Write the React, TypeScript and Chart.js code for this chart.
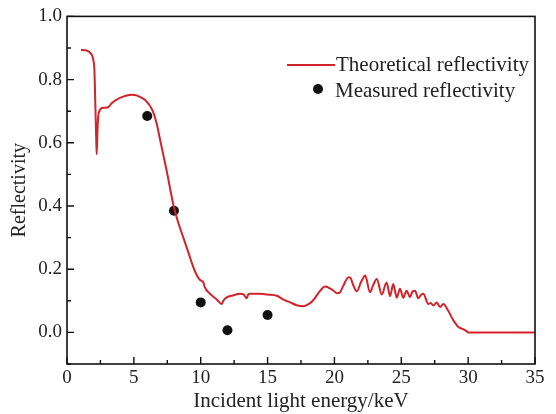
import React, { useEffect, useRef } from "react";
import { Chart, registerables } from "chart.js";

Chart.register(...registerables);

// Theoretical reflectivity curve (energy in keV)
const theoryEnergy = [
  1.05, 1.4, 1.72, 1.85, 1.97, 2.05, 2.12, 2.18, 2.22, 2.28, 2.34, 2.45, 2.6, 2.85,
  3.09, 3.34, 3.65, 3.96, 4.4, 4.84, 5.2, 5.46, 5.8, 6.08, 6.4, 6.7, 6.96, 7.46,
  7.95, 8.3, 8.7, 9.1, 9.45, 9.75, 9.95, 10.1, 10.2, 10.3, 10.7, 11.2, 11.57, 11.7,
  11.95, 12.4, 12.94, 13.2, 13.44, 13.55, 13.69, 14.4, 14.94, 15.7, 16.18, 16.7,
  17.18, 17.7, 18.1, 18.4, 18.9, 19.3, 19.8, 20.2, 20.4, 20.67, 21.04, 21.17, 21.4,
  21.67, 22.0, 22.3, 22.66, 22.9, 23.17, 23.54, 23.9, 24.16, 24.4, 24.66, 24.9,
  25.15, 25.4, 25.65, 25.85, 26.03, 26.27, 26.5, 26.65, 27.02, 27.2, 27.4, 27.65,
  27.9, 28.15, 28.5, 28.9, 29.27, 29.64, 29.85, 30.0, 35.0,
];
const theoryReflectivity = [
  0.894, 0.893, 0.886, 0.878, 0.862, 0.83, 0.72, 0.62, 0.564, 0.64, 0.685, 0.703, 0.71, 0.711,
  0.713, 0.725, 0.735, 0.742, 0.749, 0.752, 0.75, 0.745, 0.737, 0.724, 0.702, 0.662, 0.61, 0.51,
  0.405, 0.35, 0.3, 0.25, 0.206, 0.178, 0.166, 0.162, 0.158, 0.143, 0.122, 0.104, 0.09, 0.101,
  0.111, 0.117, 0.122, 0.12, 0.108, 0.12, 0.122, 0.122, 0.12, 0.116, 0.104, 0.095,
  0.086, 0.083, 0.09, 0.101, 0.13, 0.145, 0.136, 0.124, 0.126, 0.148, 0.174, 0.174, 0.15,
  0.13, 0.16, 0.18, 0.127, 0.15, 0.169, 0.12, 0.158, 0.115, 0.153, 0.11, 0.138,
  0.11, 0.132, 0.112, 0.13, 0.132, 0.108, 0.12, 0.122, 0.09, 0.093, 0.085, 0.095,
  0.08, 0.09, 0.069, 0.038, 0.017, 0.01, 0.005, 0.0, 0.0,
];

// Measured reflectivity points
const measuredEnergy = [6, 8, 10, 12, 15];
const measuredReflectivity = [0.685, 0.385, 0.095, 0.007, 0.055];

const xMajorTicks = [0, 5, 10, 15, 20, 25, 30, 35];
const yMajorTicks = [0, 0.2, 0.4, 0.6, 0.8, 1.0];

const SERIF = "'Liberation Serif', 'DejaVu Serif', serif";
const TEXT = "#222";
const RED = "#d2232a";

// Frame, inward ticks and the in-plot legend
const framePlugin = {
  id: "frameTicksLegend",
  afterDraw(chart: any) {
    const { ctx, chartArea, scales } = chart;
    const { left, right, top, bottom } = chartArea;
    const xs = scales.x;
    const ys = scales.y;
    ctx.save();
    ctx.strokeStyle = "#111";
    ctx.lineWidth = 1.6;
    ctx.strokeRect(left, top, right - left, bottom - top);

    ctx.lineWidth = 1.4;
    ctx.beginPath();
    for (let v = 0; v <= 35 + 1e-6; v += 2.5) {
      const major = Math.abs(v / 5 - Math.round(v / 5)) < 1e-6;
      const px = xs.getPixelForValue(v);
      ctx.moveTo(px, bottom);
      ctx.lineTo(px, bottom - (major ? 7 : 4));
    }
    for (let v = -0.1; v <= 1.0 + 1e-6; v += 0.1) {
      const k = Math.round(v * 10);
      const major = k % 2 === 0;
      const py = ys.getPixelForValue(k / 10);
      ctx.moveTo(left, py);
      ctx.lineTo(left + (major ? 7 : 4), py);
    }
    ctx.stroke();

    // legend
    const sets = chart.data.datasets;
    ctx.font = `21px ${SERIF}`;
    ctx.fillStyle = TEXT;
    ctx.textBaseline = "middle";
    ctx.textAlign = "left";
    ctx.strokeStyle = RED;
    ctx.lineWidth = 2;
    ctx.beginPath();
    ctx.moveTo(287, 65);
    ctx.lineTo(335, 65);
    ctx.stroke();
    ctx.fillText(sets[0].label, 336, 65);
    ctx.fillStyle = "#111";
    ctx.beginPath();
    ctx.arc(318, 89, 5, 0, Math.PI * 2);
    ctx.fill();
    ctx.fillStyle = TEXT;
    ctx.fillText(sets[1].label, 335, 91);
    ctx.restore();
  },
};

export default function App() {
  const canvasRef = useRef<HTMLCanvasElement | null>(null);

  useEffect(() => {
    document.body.style.margin = "0";
    const canvas = canvasRef.current;
    if (!canvas) return;
    const chart = new Chart(canvas, {
      type: "scatter",
      data: {
        datasets: [
          {
            label: "Theoretical reflectivity",
            data: theoryEnergy.map((x, i) => ({ x, y: theoryReflectivity[i] })),
            showLine: true,
            borderColor: RED,
            borderWidth: 2,
            pointRadius: 0,
            cubicInterpolationMode: "monotone",
          },
          {
            label: "Measured reflectivity",
            data: measuredEnergy.map((x, i) => ({ x, y: measuredReflectivity[i] })),
            showLine: false,
            pointRadius: 5,
            backgroundColor: "#111",
            borderColor: "#111",
            borderWidth: 0,
          },
        ],
      },
      options: {
        responsive: false,
        animation: false,
        layout: { padding: { left: 0, right: 21, top: 14, bottom: 0 } },
        plugins: { legend: { display: false }, tooltip: { enabled: false } },
        scales: {
          x: {
            type: "linear",
            min: 0,
            max: 35,
            afterBuildTicks: (s: any) => {
              s.ticks = xMajorTicks.map((value) => ({ value }));
            },
            afterFit: (s: any) => {
              s.height = 50;
            },
            grid: { display: false, drawTicks: false },
            border: { display: false },
            ticks: {
              padding: 3,
              color: TEXT,
              font: { family: SERIF, size: 19 },
              maxRotation: 0,
            },
            title: {
              display: true,
              text: "Incident light energy/keV",
              color: TEXT,
              font: { family: SERIF, size: 21 },
              padding: { top: 0, bottom: 0 },
            },
          },
          y: {
            type: "linear",
            min: -0.1,
            max: 1.0,
            afterBuildTicks: (s: any) => {
              s.ticks = yMajorTicks.map((value) => ({ value }));
            },
            afterFit: (s: any) => {
              s.width = 67;
            },
            grid: { display: false, drawTicks: false },
            border: { display: false },
            ticks: {
              padding: 5,
              color: TEXT,
              font: { family: SERIF, size: 19 },
              callback: (v: any) => Number(v).toFixed(1),
            },
            title: {
              display: true,
              text: "Reflectivity",
              color: TEXT,
              font: { family: SERIF, size: 20 },
              padding: { top: 8, bottom: 0 },
            },
          },
        },
      },
      plugins: [framePlugin],
    });
    return () => chart.destroy();
  }, []);

  return <canvas ref={canvasRef} width={556} height={414} style={{ display: "block" }} />;
}
